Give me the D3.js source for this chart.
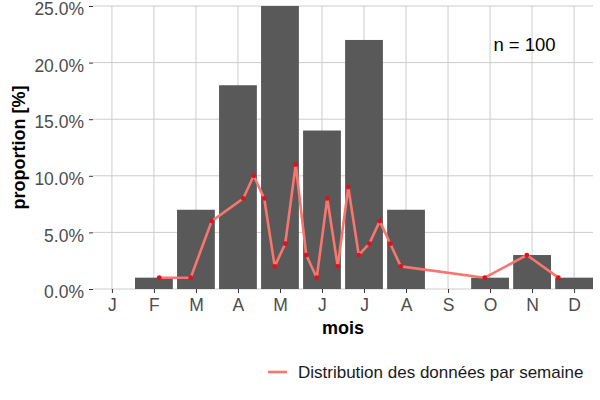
<!DOCTYPE html>
<html>
<head>
<meta charset="utf-8">
<script src="https://cdn.jsdelivr.net/npm/d3@7"></script>
<style>
  body { margin: 0; background: #fff; }
  text { font-family: "Liberation Sans", Arial, sans-serif; }
</style>
</head>
<body>
<div id="chart"></div>
<script>
// data
var months = ["J", "F", "M", "A", "M", "J", "J", "A", "S", "O", "N", "D"];
var monthlyPct = [0, 1, 7, 18, 25, 14, 22, 7, 0, 1, 3, 1];
var weeks = [5, 8, 10, 13, 14, 15, 16, 17, 18, 19, 20, 21, 22, 23, 24, 25, 26, 27, 28, 36, 40, 43];
var weeklyPct = [1, 1, 6, 8, 10, 8, 2, 4, 11, 3, 1, 8, 2, 9, 3, 4, 6, 4, 2, 1, 3, 1];
var yTicks = [0, 5, 10, 15, 20, 25];
var nLabel = "n = 100";
var legendLabel = "Distribution des données par semaine";

var svgWidth = 600;
var svgHeight = 400;
var margin = { top: 6, right: 7, bottom: 111, left: 93 };
var width = svgWidth - margin.left - margin.right;
var height = svgHeight - margin.top - margin.bottom;

var svg = d3.select("#chart")
    .append("svg")
    .attr("width", svgWidth)
    .attr("height", svgHeight);

var chartGroup = svg.append("g")
    .attr("transform", `translate(${margin.left}, ${margin.top})`);

// month position scale (1 = J ... 12 = D)
var xScale = d3.scaleLinear().domain([0.55, 12.45]).range([0, width]);
// week number -> month position
var weekToMonth = d3.scaleLinear().domain([0.5, 48.5]).range([1, 13]);
var yScale = d3.scaleLinear().domain([0, 25]).range([height, 0]);

var monthData = months.map((m, i) => ({ pos: i + 1, label: m, pct: monthlyPct[i] }));
var weekData = weeks.map((w, i) => ({ pos: weekToMonth(w), pct: weeklyPct[i] }));

// grid
chartGroup.selectAll(".hgrid")
    .data(yTicks)
    .enter()
    .append("line")
    .attr("x1", 0)
    .attr("x2", width)
    .attr("y1", d => yScale(d))
    .attr("y2", d => yScale(d))
    .attr("stroke", "#cccccc")
    .attr("stroke-width", 1);

chartGroup.selectAll(".vgrid")
    .data(monthData)
    .enter()
    .append("line")
    .attr("x1", d => xScale(d.pos))
    .attr("x2", d => xScale(d.pos))
    .attr("y1", 0)
    .attr("y2", height)
    .attr("stroke", "#cccccc")
    .attr("stroke-width", 1);

// bars
var barW = xScale(1.9) - xScale(1);
chartGroup.selectAll("rect")
    .data(monthData.filter(d => d.pct > 0))
    .enter()
    .append("rect")
    .attr("x", d => xScale(d.pos - 0.45))
    .attr("y", d => yScale(d.pct))
    .attr("width", barW)
    .attr("height", d => height - yScale(d.pct))
    .attr("fill", "#595959");

// weekly line
var line = d3.line()
    .x(d => xScale(d.pos))
    .y(d => yScale(d.pct));

chartGroup.append("path")
    .datum(weekData)
    .attr("d", line)
    .attr("fill", "none")
    .attr("stroke", "#F8766D")
    .attr("stroke-width", 2.6)
    .attr("stroke-linejoin", "round");

chartGroup.selectAll(".pt")
    .data(weekData)
    .enter()
    .append("circle")
    .attr("cx", d => xScale(d.pos))
    .attr("cy", d => yScale(d.pct))
    .attr("r", 2.4)
    .attr("fill", "#e3101c");

// axes
var xAxis = d3.axisBottom(xScale)
    .tickValues(monthData.map(d => d.pos))
    .tickFormat((d, i) => months[i])
    .tickSize(4)
    .tickPadding(6);

var yAxis = d3.axisLeft(yScale)
    .tickValues(yTicks)
    .tickFormat(d => d3.format(".1f")(d) + "%")
    .tickSize(4)
    .tickPadding(5);

var xg = chartGroup.append("g")
    .attr("transform", `translate(0, ${height})`)
    .call(xAxis);
var yg = chartGroup.append("g")
    .call(yAxis);

[xg, yg].forEach(g => {
    g.select(".domain").remove();
    g.selectAll(".tick line").attr("stroke", "#333333").attr("stroke-width", 1);
    g.selectAll(".tick text")
        .attr("fill", "#4d4d4d")
        .style("font-size", "17.5px");
});
// ggplot sits the y labels a little lower than d3 does
yg.selectAll(".tick text").attr("dy", "0.5em");

// axis titles
chartGroup.append("text")
    .attr("x", width / 2)
    .attr("y", height + 45)
    .attr("text-anchor", "middle")
    .style("font-size", "18px")
    .style("font-weight", "bold")
    .attr("fill", "#000")
    .text("mois");

chartGroup.append("text")
    .attr("transform", "rotate(-90)")
    .attr("x", -height / 2)
    .attr("y", -68)
    .attr("text-anchor", "middle")
    .style("font-size", "18px")
    .style("font-weight", "bold")
    .attr("fill", "#000")
    .text("proportion [%]");

// annotation
chartGroup.append("text")
    .attr("x", xScale(10.82))
    .attr("y", yScale(21.0))
    .attr("text-anchor", "middle")
    .style("font-size", "18.5px")
    .attr("fill", "#000")
    .text(nLabel);

// legend
var legend = svg.append("g")
    .attr("transform", "translate(268, 372)");
legend.append("line")
    .attr("x1", 0)
    .attr("x2", 19)
    .attr("y1", 0)
    .attr("y2", 0)
    .attr("stroke", "#F8766D")
    .attr("stroke-width", 2.6);
legend.append("text")
    .attr("x", 30)
    .attr("y", 6)
    .style("font-size", "17px")
    .attr("fill", "#1a1a1a")
    .text(legendLabel);
</script>
</body>
</html>
